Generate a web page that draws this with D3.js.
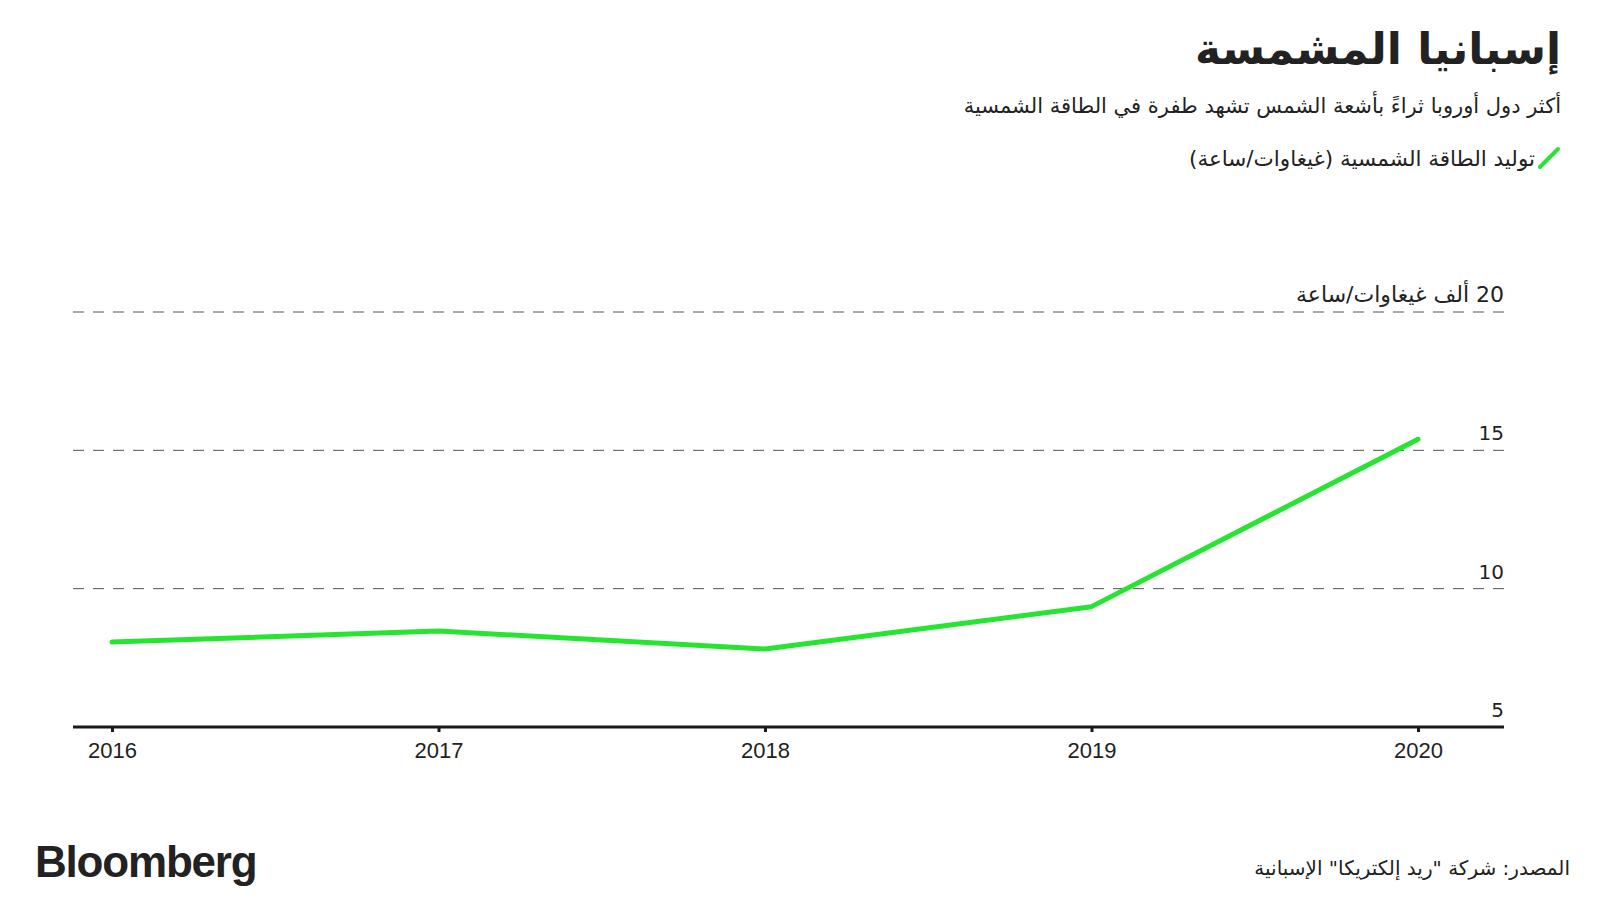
<!DOCTYPE html>
<html>
<head>
<meta charset="utf-8">
<script src="https://cdn.jsdelivr.net/npm/d3@7"></script>
<style>
  body { margin: 0; background: #fff; }
  svg { display: block; }
  text { fill: #222; font-family: "DejaVu Sans", sans-serif; }
</style>
</head>
<body>
<div id="chart"></div>
<script>
// data (thousand GWh)
var years = [2016, 2017, 2018, 2019, 2020];
var solarGen = [8.07, 8.47, 7.82, 9.35, 15.4];
var yTicks = [5, 10, 15, 20];
var yTickLabels = ["5", "10", "15", "20 ألف غيغاوات/ساعة"];

var svgWidth = 1600;
var svgHeight = 900;

var svg = d3.select("#chart").append("svg")
    .attr("width", svgWidth)
    .attr("height", svgHeight);

var plotLeft = 73;
var plotRight = 1504;

// scales
var xScale = d3.scaleLinear()
    .domain([2016, 2020])
    .range([112, 1418]);

var yScale = d3.scaleLinear()
    .domain([5, 20])
    .range([727, 312]);

// title block
svg.append("text")
    .attr("x", 1561)
    .attr("y", 64)
    .attr("direction", "rtl")
    .attr("text-anchor", "start")
    .style("font-size", "44px")
    .style("font-weight", "bold")
    .text("إسبانيا المشمسة");

svg.append("text")
    .attr("x", 1561)
    .attr("y", 113)
    .attr("direction", "rtl")
    .attr("text-anchor", "start")
    .style("font-size", "21px")
    .text("أكثر دول أوروبا ثراءً بأشعة الشمس تشهد طفرة في الطاقة الشمسية");

// legend
svg.append("line")
    .attr("x1", 1540)
    .attr("y1", 167)
    .attr("x2", 1558)
    .attr("y2", 149)
    .attr("stroke", "#25e530")
    .attr("stroke-width", 4)
    .attr("stroke-linecap", "round");

svg.append("text")
    .attr("x", 1535)
    .attr("y", 166)
    .attr("direction", "rtl")
    .attr("text-anchor", "start")
    .style("font-size", "21.5px")
    .text("توليد الطاقة الشمسية (غيغاوات/ساعة)");

// gridlines
var grid = svg.append("g");
grid.selectAll("line")
    .data(yTicks.slice(1))
    .enter()
    .append("line")
    .attr("x1", plotLeft)
    .attr("x2", plotRight)
    .attr("y1", d => yScale(d))
    .attr("y2", d => yScale(d))
    .attr("stroke", "#555")
    .attr("stroke-width", 1)
    .attr("stroke-dasharray", "11,9");

// y labels
svg.append("g").selectAll("text")
    .data(yTicks)
    .enter()
    .append("text")
    .attr("x", plotRight)
    .attr("y", d => yScale(d) - 10)
    .attr("direction", "rtl")
    .attr("text-anchor", "start")
    .style("font-size", (d, i) => i === yTicks.length - 1 ? "22px" : "20px")
    .text((d, i) => yTickLabels[i]);

// line
var line = d3.line()
    .x((d, i) => xScale(years[i]))
    .y(d => yScale(d));

svg.append("path")
    .datum(solarGen)
    .attr("d", line)
    .attr("fill", "none")
    .attr("stroke", "#25e530")
    .attr("stroke-width", 5)
    .attr("stroke-linecap", "round")
    .attr("stroke-linejoin", "round");

// x axis
svg.append("line")
    .attr("x1", plotLeft)
    .attr("x2", plotRight)
    .attr("y1", yScale(5))
    .attr("y2", yScale(5))
    .attr("stroke", "#1a1a1a")
    .attr("stroke-width", 3);

var xAxis = d3.axisBottom(xScale)
    .tickValues(years)
    .tickFormat(d3.format("d"))
    .tickSize(5)
    .tickPadding(10);

var xg = svg.append("g")
    .attr("transform", `translate(0, ${yScale(5)})`)
    .call(xAxis);
xg.select(".domain").remove();
xg.selectAll(".tick line").attr("stroke", "#1a1a1a").attr("stroke-width", 3);
xg.selectAll(".tick text")
    .style("font-family", "'Liberation Sans', Arial, sans-serif")
    .style("font-size", "22px")
    .attr("fill", "#222");

// footer
svg.append("text")
    .attr("x", 35)
    .attr("y", 877)
    .style("font-family", "'Liberation Sans', Arial, sans-serif")
    .style("font-size", "44px")
    .style("font-weight", "bold")
    .style("letter-spacing", "-1.2px")
    .text("Bloomberg");

svg.append("text")
    .attr("x", 1570)
    .attr("y", 875)
    .attr("direction", "rtl")
    .attr("text-anchor", "start")
    .style("font-size", "20px")
    .text("المصدر: شركة \"ريد إلكتريكا\" الإسبانية");
</script>
</body>
</html>
